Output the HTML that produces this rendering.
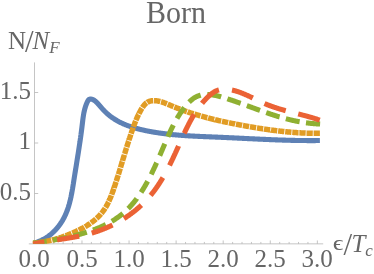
<!DOCTYPE html>
<html><head><meta charset="utf-8"><title>Born</title>
<style>
html,body{margin:0;padding:0;background:#fff;}
body{width:374px;height:274px;position:relative;overflow:hidden;font-family:"Liberation Serif",serif;color:#666666;}
.t{position:absolute;white-space:nowrap;line-height:1;will-change:transform;}
.tick{font-size:25px;}
.c{transform:translateX(-50%);}
.r{transform:translateX(-100%);}
i{font-style:italic;}
.sl{font-size:31px;position:relative;top:3.2px;line-height:0;}
.eps{display:inline-block;transform-origin:50% 20.9px;transform:translateY(-1.7px) scale(1.05,0.82);}
sub{font-size:17px;vertical-align:baseline;position:relative;top:3.6px;}
</style></head><body>
<svg width="374" height="274" viewBox="0 0 374 274" style="position:absolute;left:0;top:0">
<g stroke="#b6b6b6" stroke-width="0.8" fill="none">
<line x1="28.8" y1="243.85" x2="323.2" y2="243.85"/>
<line x1="34.5" y1="62.4" x2="34.5" y2="243.85"/>
<line x1="44.31" y1="243.85" x2="44.31" y2="241.95"/>
<line x1="53.73" y1="243.85" x2="53.73" y2="241.95"/>
<line x1="63.15" y1="243.85" x2="63.15" y2="241.95"/>
<line x1="72.56" y1="243.85" x2="72.56" y2="241.95"/>
<line x1="81.97" y1="243.85" x2="81.97" y2="240.45"/>
<line x1="91.39" y1="243.85" x2="91.39" y2="241.95"/>
<line x1="100.81" y1="243.85" x2="100.81" y2="241.95"/>
<line x1="110.22" y1="243.85" x2="110.22" y2="241.95"/>
<line x1="119.63" y1="243.85" x2="119.63" y2="241.95"/>
<line x1="129.05" y1="243.85" x2="129.05" y2="240.45"/>
<line x1="138.47" y1="243.85" x2="138.47" y2="241.95"/>
<line x1="147.88" y1="243.85" x2="147.88" y2="241.95"/>
<line x1="157.30" y1="243.85" x2="157.30" y2="241.95"/>
<line x1="166.71" y1="243.85" x2="166.71" y2="241.95"/>
<line x1="176.12" y1="243.85" x2="176.12" y2="240.45"/>
<line x1="185.54" y1="243.85" x2="185.54" y2="241.95"/>
<line x1="194.96" y1="243.85" x2="194.96" y2="241.95"/>
<line x1="204.37" y1="243.85" x2="204.37" y2="241.95"/>
<line x1="213.79" y1="243.85" x2="213.79" y2="241.95"/>
<line x1="223.20" y1="243.85" x2="223.20" y2="240.45"/>
<line x1="232.62" y1="243.85" x2="232.62" y2="241.95"/>
<line x1="242.03" y1="243.85" x2="242.03" y2="241.95"/>
<line x1="251.45" y1="243.85" x2="251.45" y2="241.95"/>
<line x1="260.86" y1="243.85" x2="260.86" y2="241.95"/>
<line x1="270.27" y1="243.85" x2="270.27" y2="240.45"/>
<line x1="279.69" y1="243.85" x2="279.69" y2="241.95"/>
<line x1="289.11" y1="243.85" x2="289.11" y2="241.95"/>
<line x1="298.52" y1="243.85" x2="298.52" y2="241.95"/>
<line x1="307.94" y1="243.85" x2="307.94" y2="241.95"/>
<line x1="317.35" y1="243.85" x2="317.35" y2="240.45"/>
<line x1="34.5" y1="193.50" x2="38.2" y2="193.50"/>
<line x1="34.5" y1="143.00" x2="38.2" y2="143.00"/>
<line x1="34.5" y1="92.50" x2="38.2" y2="92.50"/>
</g>
<defs><clipPath id="cp"><rect x="32.8" y="0" width="341.2" height="243.7"/></clipPath></defs><g clip-path="url(#cp)">
<path d="M319.90 140.54 L317.40 140.56 L316.91 140.57 L316.41 140.57 L315.91 140.57 L315.41 140.58 L314.91 140.58 L314.41 140.58 L313.91 140.58 L313.41 140.59 L312.91 140.59 L312.41 140.59 L311.91 140.59 L311.41 140.59 L310.91 140.59 L310.41 140.59 L309.91 140.59 L309.41 140.59 L308.91 140.59 L308.41 140.58 L307.91 140.58 L307.41 140.58 L306.91 140.58 L306.41 140.57 L305.91 140.57 L305.41 140.57 L304.91 140.56 L304.41 140.56 L303.91 140.55 L303.41 140.55 L302.91 140.54 L302.41 140.54 L301.91 140.53 L301.41 140.53 L300.91 140.52 L300.41 140.51 L299.91 140.50 L299.41 140.50 L298.91 140.49 L298.41 140.48 L297.91 140.47 L297.41 140.46 L296.91 140.45 L296.41 140.45 L295.91 140.44 L295.41 140.43 L294.91 140.42 L294.41 140.41 L293.91 140.39 L293.41 140.38 L292.91 140.37 L292.41 140.36 L291.91 140.35 L291.41 140.34 L290.91 140.33 L290.41 140.31 L289.91 140.30 L289.41 140.29 L288.91 140.27 L288.41 140.26 L287.91 140.25 L287.41 140.23 L286.91 140.22 L286.41 140.20 L285.91 140.19 L285.41 140.17 L284.91 140.16 L284.41 140.14 L283.91 140.13 L283.41 140.11 L282.91 140.10 L282.41 140.08 L281.91 140.06 L281.41 140.05 L280.91 140.03 L280.41 140.01 L279.91 140.00 L279.41 139.98 L278.91 139.96 L278.42 139.94 L277.92 139.93 L277.42 139.91 L276.92 139.89 L276.42 139.87 L275.92 139.85 L275.42 139.83 L274.92 139.81 L274.42 139.80 L273.92 139.78 L273.42 139.76 L272.92 139.74 L272.42 139.72 L271.92 139.70 L271.42 139.68 L270.92 139.66 L270.42 139.64 L269.92 139.62 L269.42 139.59 L268.92 139.57 L268.42 139.55 L267.92 139.53 L267.42 139.51 L266.93 139.49 L266.43 139.47 L265.93 139.45 L265.43 139.42 L264.93 139.40 L264.43 139.38 L263.93 139.36 L263.43 139.34 L262.93 139.31 L262.43 139.29 L261.93 139.27 L261.43 139.25 L260.93 139.22 L260.43 139.20 L259.93 139.18 L259.43 139.15 L258.93 139.13 L258.43 139.11 L257.93 139.08 L257.44 139.06 L256.94 139.04 L256.44 139.01 L255.94 138.99 L255.44 138.97 L254.94 138.94 L254.44 138.92 L253.94 138.89 L253.44 138.87 L252.94 138.85 L252.44 138.82 L251.94 138.80 L251.44 138.77 L250.94 138.75 L250.44 138.73 L249.94 138.70 L249.44 138.68 L248.94 138.65 L248.44 138.63 L247.95 138.60 L247.45 138.58 L246.95 138.56 L246.45 138.53 L245.95 138.51 L245.45 138.48 L244.95 138.46 L244.45 138.43 L243.95 138.41 L243.45 138.38 L242.95 138.36 L242.45 138.33 L241.95 138.31 L241.45 138.29 L240.95 138.26 L240.45 138.24 L239.95 138.21 L239.45 138.19 L238.96 138.16 L238.46 138.14 L237.96 138.11 L237.46 138.09 L236.96 138.07 L236.46 138.04 L235.96 138.02 L235.46 137.99 L234.96 137.97 L234.46 137.94 L233.96 137.92 L233.46 137.90 L232.96 137.87 L232.46 137.85 L231.96 137.82 L231.46 137.80 L230.96 137.78 L230.46 137.75 L229.96 137.73 L229.46 137.70 L228.97 137.68 L228.47 137.66 L227.97 137.63 L227.47 137.61 L226.97 137.59 L226.47 137.56 L225.97 137.54 L225.47 137.52 L224.97 137.50 L224.47 137.47 L223.97 137.45 L223.47 137.43 L222.97 137.40 L222.47 137.38 L221.97 137.36 L221.47 137.34 L220.97 137.32 L220.47 137.29 L219.97 137.27 L219.47 137.25 L218.97 137.23 L218.47 137.21 L217.97 137.18 L217.47 137.16 L216.97 137.14 L216.47 137.12 L215.98 137.10 L215.48 137.08 L214.98 137.06 L214.48 137.04 L213.98 137.02 L213.48 137.00 L212.98 136.98 L212.48 136.96 L211.98 136.94 L211.48 136.91 L210.98 136.89 L210.48 136.87 L209.98 136.85 L209.48 136.83 L208.98 136.81 L208.48 136.79 L207.98 136.77 L207.48 136.75 L206.98 136.73 L206.48 136.71 L205.98 136.69 L205.48 136.67 L204.98 136.65 L204.48 136.62 L203.98 136.60 L203.48 136.58 L202.98 136.56 L202.48 136.54 L201.99 136.52 L201.49 136.49 L200.99 136.47 L200.49 136.45 L199.99 136.43 L199.49 136.40 L198.99 136.38 L198.49 136.36 L197.99 136.33 L197.49 136.31 L196.99 136.29 L196.49 136.26 L195.99 136.24 L195.49 136.21 L194.99 136.19 L194.50 136.16 L194.00 136.14 L193.50 136.11 L193.00 136.08 L192.50 136.06 L192.00 136.03 L191.50 136.00 L191.00 135.97 L190.50 135.94 L190.00 135.92 L189.51 135.89 L189.01 135.86 L188.51 135.83 L188.01 135.80 L187.51 135.77 L187.01 135.73 L186.51 135.70 L186.01 135.67 L185.52 135.64 L185.02 135.61 L184.52 135.57 L184.02 135.54 L183.52 135.50 L183.02 135.47 L182.53 135.43 L182.03 135.40 L181.53 135.36 L181.03 135.32 L180.53 135.28 L180.03 135.24 L179.54 135.21 L179.04 135.17 L178.54 135.13 L178.04 135.08 L177.54 135.04 L177.05 135.00 L176.55 134.96 L176.05 134.91 L175.55 134.87 L175.06 134.83 L174.56 134.78 L174.06 134.73 L173.56 134.69 L173.07 134.64 L172.57 134.59 L172.07 134.54 L171.58 134.49 L171.08 134.44 L170.58 134.39 L170.08 134.34 L169.59 134.28 L169.09 134.23 L168.59 134.18 L168.10 134.12 L167.60 134.07 L167.10 134.01 L166.61 133.95 L166.11 133.89 L165.61 133.83 L165.12 133.77 L164.62 133.71 L164.13 133.65 L163.63 133.59 L163.13 133.52 L162.64 133.46 L162.14 133.39 L161.65 133.32 L161.15 133.26 L160.66 133.19 L160.16 133.12 L159.66 133.05 L159.17 132.98 L158.67 132.90 L158.18 132.83 L157.68 132.76 L157.19 132.68 L156.69 132.60 L156.20 132.53 L155.70 132.45 L155.21 132.37 L154.71 132.29 L154.22 132.21 L153.73 132.12 L153.23 132.04 L152.74 131.95 L152.24 131.87 L151.75 131.78 L151.25 131.69 L150.76 131.60 L150.27 131.51 L149.77 131.42 L149.28 131.33 L148.79 131.23 L148.29 131.14 L147.80 131.04 L147.31 130.94 L146.81 130.85 L146.32 130.74 L145.83 130.64 L145.33 130.54 L144.84 130.44 L144.35 130.33 L143.86 130.22 L143.37 130.12 L142.87 130.01 L142.38 129.89 L141.89 129.78 L141.40 129.67 L140.91 129.55 L140.42 129.43 L139.94 129.32 L139.45 129.19 L138.96 129.07 L138.47 128.95 L137.99 128.82 L137.50 128.69 L137.01 128.56 L136.53 128.43 L136.05 128.30 L135.56 128.16 L135.08 128.02 L134.60 127.89 L134.12 127.74 L133.64 127.60 L133.16 127.45 L132.68 127.31 L132.21 127.16 L131.73 127.00 L131.26 126.85 L130.78 126.69 L130.31 126.53 L129.84 126.37 L129.37 126.21 L128.90 126.04 L128.43 125.87 L127.97 125.70 L127.50 125.53 L127.04 125.35 L126.57 125.18 L126.11 124.99 L125.65 124.81 L125.19 124.62 L124.74 124.43 L124.28 124.24 L123.83 124.05 L123.37 123.85 L122.92 123.65 L122.47 123.45 L122.03 123.24 L121.58 123.03 L121.14 122.82 L120.69 122.61 L120.25 122.39 L119.81 122.17 L119.38 121.94 L118.94 121.72 L118.51 121.49 L118.08 121.25 L117.65 121.02 L117.22 120.78 L116.79 120.54 L116.37 120.29 L115.95 120.04 L115.53 119.79 L115.11 119.53 L114.69 119.27 L114.28 119.01 L113.87 118.74 L113.46 118.47 L113.05 118.20 L112.65 117.92 L112.25 117.64 L111.85 117.36 L111.45 117.07 L111.06 116.78 L110.66 116.48 L110.27 116.18 L109.89 115.88 L109.50 115.57 L109.12 115.26 L108.73 114.94 L108.35 114.62 L107.98 114.30 L107.60 113.97 L107.22 113.64 L106.85 113.30 L106.48 112.96 L106.11 112.61 L105.74 112.26 L105.37 111.91 L105.01 111.55 L104.64 111.18 L104.27 110.81 L103.91 110.43 L103.55 110.05 L103.19 109.67 L102.82 109.28 L102.46 108.88 L102.10 108.48 L101.74 108.07 L101.38 107.66 L101.02 107.24 L100.66 106.82 L100.30 106.40 L99.94 105.98 L99.58 105.56 L99.22 105.14 L98.86 104.73 L98.50 104.32 L98.13 103.92 L97.77 103.52 L97.41 103.13 L97.04 102.76 L96.67 102.39 L96.30 102.04 L95.93 101.70 L95.56 101.37 L95.19 101.06 L94.81 100.77 L94.43 100.50 L94.05 100.25 L93.67 100.02 L93.28 99.81 L92.90 99.62 L92.50 99.47 L92.11 99.33 L91.71 99.23 L91.32 99.15 L90.91 99.11 L90.51 99.10 L90.10 99.12 L89.71 99.19 L89.33 99.32 L88.98 99.52 L88.66 99.79 L88.36 100.12 L88.09 100.49 L87.84 100.91 L87.60 101.35 L87.38 101.80 L87.16 102.27 L86.95 102.73 L86.75 103.20 L86.55 103.66 L86.36 104.13 L86.18 104.61 L86.01 105.08 L85.83 105.55 L85.67 106.03 L85.51 106.51 L85.36 106.99 L85.21 107.47 L85.07 107.95 L84.93 108.44 L84.80 108.92 L84.67 109.41 L84.55 109.90 L84.43 110.39 L84.32 110.88 L84.21 111.37 L84.10 111.87 L84.00 112.36 L83.90 112.85 L83.80 113.35 L83.71 113.85 L83.62 114.34 L83.54 114.84 L83.46 115.34 L83.38 115.84 L83.30 116.34 L83.22 116.84 L83.15 117.34 L83.08 117.85 L83.01 118.35 L82.94 118.85 L82.88 119.35 L82.81 119.86 L82.75 120.36 L82.69 120.86 L82.63 121.37 L82.57 121.87 L82.51 122.37 L82.45 122.87 L82.39 123.38 L82.33 123.88 L82.27 124.38 L82.21 124.89 L82.15 125.39 L82.09 125.89 L82.03 126.39 L81.97 126.89 L81.91 127.39 L81.85 127.89 L81.78 128.39 L81.72 128.89 L81.66 129.39 L81.59 129.89 L81.53 130.39 L81.47 130.88 L81.40 131.38 L81.34 131.88 L81.27 132.38 L81.20 132.87 L81.14 133.37 L81.07 133.87 L81.00 134.36 L80.94 134.86 L80.87 135.35 L80.80 135.85 L80.73 136.34 L80.66 136.84 L80.59 137.33 L80.53 137.83 L80.46 138.32 L80.39 138.81 L80.31 139.31 L80.24 139.80 L80.17 140.30 L80.10 140.79 L80.03 141.28 L79.96 141.77 L79.89 142.27 L79.81 142.76 L79.74 143.25 L79.67 143.74 L79.59 144.23 L79.52 144.73 L79.45 145.22 L79.37 145.71 L79.30 146.20 L79.23 146.69 L79.15 147.18 L79.08 147.67 L79.00 148.17 L78.93 148.66 L78.85 149.15 L78.77 149.64 L78.70 150.13 L78.62 150.62 L78.55 151.11 L78.47 151.60 L78.39 152.09 L78.32 152.58 L78.24 153.07 L78.16 153.56 L78.08 154.05 L78.01 154.54 L77.93 155.03 L77.85 155.52 L77.77 156.01 L77.70 156.50 L77.62 156.99 L77.54 157.48 L77.46 157.97 L77.38 158.46 L77.30 158.95 L77.23 159.44 L77.15 159.94 L77.07 160.43 L76.99 160.92 L76.91 161.41 L76.83 161.90 L76.75 162.39 L76.67 162.88 L76.59 163.37 L76.51 163.86 L76.43 164.35 L76.36 164.84 L76.28 165.34 L76.20 165.83 L76.12 166.32 L76.04 166.81 L75.96 167.30 L75.88 167.79 L75.80 168.29 L75.72 168.78 L75.64 169.27 L75.56 169.76 L75.48 170.26 L75.40 170.75 L75.32 171.24 L75.24 171.74 L75.16 172.23 L75.08 172.73 L75.01 173.22 L74.93 173.71 L74.85 174.21 L74.77 174.70 L74.69 175.20 L74.61 175.69 L74.53 176.19 L74.45 176.69 L74.37 177.18 L74.29 177.68 L74.22 178.17 L74.14 178.67 L74.06 179.17 L73.98 179.67 L73.90 180.16 L73.83 180.66 L73.75 181.16 L73.67 181.66 L73.59 182.16 L73.51 182.66 L73.43 183.16 L73.36 183.66 L73.28 184.15 L73.20 184.65 L73.12 185.15 L73.04 185.65 L72.96 186.15 L72.88 186.65 L72.79 187.15 L72.71 187.65 L72.63 188.15 L72.54 188.65 L72.46 189.15 L72.37 189.64 L72.29 190.14 L72.20 190.64 L72.11 191.14 L72.02 191.64 L71.93 192.13 L71.84 192.63 L71.75 193.13 L71.65 193.62 L71.56 194.12 L71.46 194.61 L71.36 195.11 L71.26 195.60 L71.16 196.09 L71.06 196.59 L70.95 197.08 L70.85 197.57 L70.74 198.06 L70.63 198.55 L70.52 199.04 L70.40 199.53 L70.29 200.02 L70.17 200.51 L70.05 200.99 L69.93 201.48 L69.81 201.96 L69.68 202.45 L69.55 202.93 L69.42 203.41 L69.29 203.90 L69.16 204.38 L69.02 204.85 L68.88 205.33 L68.74 205.81 L68.59 206.29 L68.45 206.76 L68.30 207.24 L68.14 207.71 L67.99 208.18 L67.83 208.65 L67.67 209.12 L67.50 209.59 L67.34 210.05 L67.17 210.52 L66.99 210.98 L66.82 211.44 L66.64 211.90 L66.46 212.36 L66.27 212.82 L66.08 213.28 L65.89 213.73 L65.69 214.19 L65.49 214.64 L65.29 215.09 L65.08 215.54 L64.87 215.99 L64.66 216.43 L64.44 216.88 L64.22 217.32 L63.99 217.76 L63.76 218.20 L63.53 218.63 L63.29 219.07 L63.05 219.50 L62.81 219.93 L62.56 220.36 L62.31 220.79 L62.05 221.21 L61.79 221.64 L61.52 222.06 L61.25 222.48 L60.98 222.89 L60.71 223.31 L60.43 223.72 L60.14 224.13 L59.85 224.54 L59.56 224.94 L59.27 225.34 L58.97 225.74 L58.67 226.14 L58.36 226.53 L58.05 226.92 L57.73 227.31 L57.42 227.69 L57.10 228.07 L56.77 228.45 L56.44 228.83 L56.11 229.20 L55.77 229.57 L55.44 229.94 L55.09 230.30 L54.75 230.66 L54.40 231.01 L54.04 231.37 L53.69 231.72 L53.33 232.06 L52.96 232.40 L52.59 232.74 L52.22 233.08 L51.85 233.41 L51.47 233.73 L51.09 234.06 L50.71 234.38 L50.32 234.69 L49.93 235.00 L49.53 235.31 L49.14 235.61 L48.73 235.91 L48.33 236.21 L47.92 236.50 L47.51 236.78 L47.10 237.06 L46.68 237.34 L46.26 237.61 L45.84 237.88 L45.41 238.14 L44.98 238.40 L44.55 238.66 L44.11 238.91 L43.67 239.15 L43.23 239.39 L42.78 239.62 L42.34 239.85 L41.88 240.08 L41.43 240.30 L40.97 240.51 L40.51 240.72 L40.05 240.92 L39.58 241.12 L39.11 241.32 L38.64 241.50 L38.16 241.69 L37.68 241.86 L37.20 242.03 L36.72 242.20 L36.23 242.36 L35.74 242.51 L35.25 242.66 L34.76 242.80 L34.75 242.81" fill="none" stroke="#5e81b5" stroke-width="5.1" stroke-linejoin="round" stroke-linecap="butt"/>
<path d="M319.90 133.26 L317.40 133.27 L316.93 133.27 L316.43 133.27 L315.93 133.27 L315.42 133.27 L314.92 133.27 L314.42 133.27 L313.92 133.27 L313.60 133.27 M312.78 133.26 L312.42 133.25 L311.92 133.25 L311.42 133.24 L310.92 133.23 L310.42 133.22 L309.92 133.21 L309.42 133.20 L308.92 133.19 L308.42 133.17 L307.92 133.16 L307.42 133.15 L306.92 133.13 L306.49 133.12 M305.67 133.09 L305.42 133.08 L304.92 133.06 L304.42 133.04 L303.92 133.02 L303.42 133.00 L302.92 132.97 L302.43 132.95 L301.93 132.93 L301.43 132.90 L300.93 132.88 L300.43 132.85 L299.93 132.82 L299.43 132.79 L299.37 132.79 M298.55 132.74 L298.43 132.74 L297.93 132.71 L297.43 132.67 L296.93 132.64 L296.43 132.61 L295.94 132.58 L295.44 132.54 L294.94 132.51 L294.44 132.47 L293.94 132.43 L293.44 132.40 L292.94 132.36 L292.44 132.32 L292.27 132.31 M291.45 132.24 L291.45 132.24 L290.95 132.20 L290.45 132.16 L289.95 132.11 L289.45 132.07 L288.96 132.03 L288.46 131.98 L287.96 131.94 L287.46 131.89 L286.96 131.85 L286.47 131.80 L285.97 131.75 L285.47 131.70 L285.18 131.67 M284.36 131.59 L283.98 131.55 L283.48 131.50 L282.98 131.45 L282.48 131.40 L281.99 131.34 L281.49 131.29 L280.99 131.23 L280.49 131.18 L280.00 131.12 L279.50 131.07 L279.00 131.01 L278.51 130.95 L278.10 130.90 M277.29 130.81 L277.02 130.78 L276.52 130.72 L276.02 130.65 L275.53 130.59 L275.03 130.53 L274.53 130.47 L274.04 130.41 L273.54 130.34 L273.04 130.28 L272.55 130.21 L272.05 130.15 L271.55 130.08 L271.06 130.02 L271.04 130.01 M270.22 129.90 L270.07 129.88 L269.57 129.82 L269.07 129.75 L268.58 129.68 L268.08 129.61 L267.59 129.54 L267.09 129.47 L266.60 129.40 L266.10 129.33 L265.61 129.25 L265.11 129.18 L264.62 129.11 L264.12 129.03 L263.99 129.01 M263.18 128.89 L263.13 128.89 L262.64 128.81 L262.14 128.74 L261.65 128.66 L261.15 128.58 L260.66 128.51 L260.16 128.43 L259.67 128.35 L259.17 128.28 L258.68 128.20 L258.18 128.12 L257.69 128.04 L257.20 127.96 L256.95 127.92 M256.14 127.79 L255.71 127.72 L255.22 127.64 L254.73 127.55 L254.23 127.47 L253.74 127.39 L253.25 127.31 L252.75 127.22 L252.26 127.14 L251.77 127.06 L251.27 126.97 L250.78 126.89 L250.29 126.80 L249.93 126.74 M249.12 126.60 L248.81 126.54 L248.32 126.46 L247.82 126.37 L247.33 126.28 L246.84 126.20 L246.35 126.11 L245.85 126.02 L245.36 125.93 L244.87 125.84 L244.38 125.75 L243.89 125.66 L243.39 125.57 L242.92 125.49 M242.11 125.34 L241.92 125.30 L241.43 125.21 L240.94 125.12 L240.45 125.03 L239.96 124.94 L239.46 124.85 L238.97 124.75 L238.48 124.66 L237.99 124.57 L237.50 124.47 L237.01 124.38 L236.52 124.29 L236.03 124.19 L235.92 124.17 M235.12 124.02 L235.05 124.00 L234.56 123.91 L234.07 123.81 L233.58 123.71 L233.09 123.62 L232.60 123.52 L232.11 123.42 L231.62 123.32 L231.13 123.23 L230.64 123.13 L230.15 123.03 L229.66 122.93 L229.18 122.83 L228.94 122.78 M228.14 122.61 L227.71 122.52 L227.22 122.42 L226.73 122.32 L226.25 122.22 L225.76 122.11 L225.27 122.01 L224.78 121.90 L224.29 121.80 L223.81 121.69 L223.32 121.59 L222.83 121.48 L222.34 121.37 L221.98 121.29 M221.18 121.11 L220.88 121.05 L220.40 120.94 L219.91 120.83 L219.43 120.72 L218.94 120.61 L218.45 120.50 L217.97 120.38 L217.48 120.27 L217.00 120.16 L216.51 120.04 L216.02 119.93 L215.54 119.81 L215.05 119.70 L215.04 119.69 M214.24 119.50 L214.09 119.46 L213.60 119.35 L213.12 119.23 L212.63 119.11 L212.15 118.99 L211.66 118.87 L211.18 118.75 L210.70 118.63 L210.21 118.51 L209.73 118.38 L209.25 118.26 L208.76 118.13 L208.28 118.01 L208.13 117.97 M207.34 117.76 L207.31 117.76 L206.83 117.63 L206.35 117.50 L205.87 117.37 L205.39 117.25 L204.90 117.12 L204.42 116.98 L203.94 116.85 L203.46 116.72 L202.98 116.59 L202.50 116.45 L202.02 116.32 L201.54 116.18 L201.26 116.11 M200.47 115.88 L200.10 115.77 L199.62 115.64 L199.14 115.50 L198.66 115.36 L198.18 115.22 L197.70 115.07 L197.22 114.93 L196.74 114.79 L196.26 114.64 L195.78 114.50 L195.31 114.35 L194.83 114.21 L194.43 114.09 M193.65 113.84 L193.40 113.76 L192.92 113.61 L192.44 113.46 L191.96 113.31 L191.49 113.16 L191.01 113.00 L190.53 112.85 L190.06 112.69 L189.58 112.54 L189.11 112.38 L188.63 112.22 L188.16 112.06 L187.68 111.90 L187.66 111.89 M186.88 111.63 L186.73 111.58 L186.26 111.42 L185.78 111.25 L185.31 111.09 L184.83 110.92 L184.36 110.75 L183.89 110.59 L183.41 110.42 L182.94 110.25 L182.47 110.08 L182.00 109.90 L181.52 109.73 L181.05 109.56 L180.95 109.52 M180.18 109.23 L180.11 109.21 L179.64 109.03 L179.17 108.85 L178.69 108.67 L178.22 108.49 L177.75 108.31 L177.28 108.13 L176.81 107.95 L176.34 107.76 L175.87 107.58 L175.40 107.39 L174.93 107.20 L174.47 107.01 L174.31 106.95 M173.55 106.64 L173.53 106.63 L173.06 106.44 L172.59 106.25 L172.12 106.05 L171.66 105.86 L171.19 105.66 L170.72 105.46 L170.25 105.26 L169.79 105.07 L169.32 104.87 L168.85 104.67 L168.39 104.47 L167.92 104.27 L167.74 104.20 M166.98 103.88 L166.52 103.69 L166.05 103.50 L165.58 103.32 L165.11 103.13 L164.64 102.95 L164.17 102.78 L163.69 102.60 L163.22 102.44 L162.75 102.27 L162.27 102.12 L161.80 101.97 L161.32 101.82 L161.06 101.75 M160.27 101.53 L159.88 101.43 L159.39 101.31 L158.91 101.20 L158.42 101.10 L157.93 101.01 L157.45 100.92 L156.95 100.85 L156.46 100.78 L155.97 100.73 L155.48 100.69 L154.99 100.65 L154.50 100.63 L154.05 100.63 M153.23 100.64 L153.05 100.65 L152.57 100.68 L152.10 100.73 L151.63 100.79 L151.17 100.87 L150.71 100.96 L150.25 101.07 L149.81 101.19 L149.37 101.34 L148.93 101.50 L148.51 101.68 L148.09 101.87 L147.68 102.09 L147.28 102.32 L147.24 102.35 M146.57 102.82 L146.52 102.85 L146.15 103.14 L145.79 103.45 L145.43 103.78 L145.09 104.12 L144.75 104.47 L144.42 104.84 L144.10 105.22 L143.79 105.61 L143.48 106.01 L143.18 106.42 L142.88 106.84 L142.60 107.27 L142.43 107.52 M141.99 108.22 L141.76 108.58 L141.49 109.03 L141.23 109.48 L140.97 109.93 L140.71 110.38 L140.46 110.83 L140.21 111.28 L139.97 111.74 L139.73 112.19 L139.49 112.64 L139.26 113.10 L139.03 113.55 L138.94 113.73 M138.58 114.46 L138.57 114.47 L138.35 114.92 L138.13 115.38 L137.92 115.84 L137.70 116.30 L137.49 116.76 L137.29 117.22 L137.08 117.68 L136.88 118.14 L136.68 118.60 L136.48 119.06 L136.29 119.52 L136.09 119.98 L136.00 120.21 M135.69 120.97 L135.53 121.37 L135.34 121.84 L135.16 122.30 L134.98 122.76 L134.80 123.23 L134.62 123.70 L134.44 124.16 L134.27 124.63 L134.09 125.09 L133.92 125.56 L133.75 126.03 L133.58 126.50 L133.45 126.86 M133.17 127.63 L133.07 127.90 L132.91 128.37 L132.74 128.84 L132.57 129.31 L132.41 129.78 L132.24 130.25 L132.08 130.72 L131.92 131.19 L131.76 131.66 L131.59 132.14 L131.43 132.61 L131.27 133.08 L131.11 133.55 L131.10 133.58 M130.84 134.35 L130.79 134.50 L130.63 134.97 L130.47 135.44 L130.32 135.92 L130.16 136.39 L130.00 136.87 L129.84 137.34 L129.69 137.82 L129.53 138.29 L129.38 138.76 L129.22 139.24 L129.07 139.72 L128.91 140.19 L128.87 140.34 M128.62 141.12 L128.61 141.14 L128.45 141.62 L128.30 142.09 L128.15 142.57 L128.00 143.05 L127.85 143.52 L127.70 144.00 L127.55 144.48 L127.40 144.95 L127.25 145.43 L127.10 145.91 L126.95 146.39 L126.80 146.86 L126.72 147.13 M126.47 147.91 L126.35 148.30 L126.20 148.77 L126.06 149.25 L125.91 149.73 L125.76 150.21 L125.61 150.69 L125.47 151.16 L125.32 151.64 L125.17 152.12 L125.03 152.60 L124.88 153.08 L124.74 153.56 L124.62 153.93 M124.38 154.71 L124.30 154.99 L124.15 155.47 L124.01 155.95 L123.86 156.43 L123.72 156.91 L123.57 157.38 L123.43 157.86 L123.28 158.34 L123.14 158.82 L123.00 159.30 L122.85 159.78 L122.71 160.25 L122.56 160.73 L122.56 160.74 M122.32 161.53 L122.27 161.69 L122.13 162.17 L121.98 162.64 L121.84 163.12 L121.70 163.60 L121.55 164.08 L121.41 164.55 L121.26 165.03 L121.12 165.51 L120.97 165.99 L120.83 166.46 L120.69 166.94 L120.54 167.42 L120.50 167.56 M120.26 168.34 L120.25 168.37 L120.11 168.85 L119.96 169.32 L119.82 169.80 L119.67 170.28 L119.52 170.75 L119.38 171.23 L119.23 171.70 L119.09 172.18 L118.94 172.66 L118.79 173.13 L118.65 173.61 L118.50 174.08 L118.41 174.37 M118.17 175.15 L118.05 175.51 L117.91 175.99 L117.76 176.46 L117.61 176.94 L117.46 177.41 L117.31 177.89 L117.16 178.36 L117.01 178.84 L116.85 179.32 L116.70 179.79 L116.55 180.27 L116.40 180.74 L116.26 181.16 M116.01 181.94 L115.93 182.17 L115.78 182.65 L115.62 183.12 L115.47 183.60 L115.31 184.08 L115.15 184.55 L115.00 185.03 L114.84 185.50 L114.68 185.98 L114.52 186.46 L114.36 186.94 L114.20 187.41 L114.03 187.89 L114.03 187.91 M113.76 188.69 L113.71 188.84 L113.54 189.32 L113.38 189.80 L113.21 190.28 L113.05 190.75 L112.88 191.23 L112.71 191.71 L112.54 192.18 L112.36 192.66 L112.19 193.13 L112.02 193.61 L111.84 194.08 L111.66 194.56 L111.64 194.62 M111.34 195.39 L111.30 195.50 L111.12 195.97 L110.93 196.44 L110.74 196.91 L110.55 197.38 L110.36 197.84 L110.17 198.31 L109.97 198.77 L109.78 199.23 L109.57 199.69 L109.37 200.15 L109.17 200.61 L108.96 201.07 L108.90 201.19 M108.55 201.94 L108.53 201.97 L108.32 202.42 L108.10 202.87 L107.88 203.32 L107.65 203.76 L107.42 204.21 L107.19 204.65 L106.96 205.08 L106.72 205.52 L106.48 205.95 L106.24 206.38 L105.99 206.81 L105.74 207.24 L105.58 207.49 M105.15 208.19 L104.96 208.50 L104.69 208.91 L104.42 209.32 L104.15 209.73 L103.87 210.14 L103.59 210.54 L103.30 210.94 L103.01 211.34 L102.72 211.73 L102.42 212.12 L102.11 212.50 L101.80 212.89 L101.49 213.27 L101.47 213.29 M100.94 213.92 L100.86 214.02 L100.53 214.39 L100.21 214.75 L99.87 215.12 L99.54 215.48 L99.20 215.83 L98.86 216.19 L98.51 216.54 L98.16 216.89 L97.81 217.23 L97.45 217.57 L97.09 217.91 L96.73 218.25 L96.54 218.42 M95.93 218.97 L95.62 219.24 L95.24 219.56 L94.86 219.88 L94.48 220.20 L94.09 220.52 L93.70 220.83 L93.31 221.14 L92.92 221.45 L92.52 221.75 L92.12 222.05 L91.72 222.35 L91.31 222.65 L90.99 222.88 M90.32 223.35 L90.09 223.52 L89.67 223.81 L89.25 224.09 L88.84 224.37 L88.41 224.65 L87.99 224.92 L87.57 225.20 L87.14 225.47 L86.71 225.73 L86.28 226.00 L85.84 226.26 L85.41 226.52 L85.02 226.75 M84.31 227.16 L84.09 227.29 L83.65 227.54 L83.21 227.79 L82.76 228.04 L82.32 228.28 L81.87 228.52 L81.42 228.76 L80.97 229.00 L80.52 229.24 L80.07 229.47 L79.61 229.70 L79.16 229.93 L78.76 230.13 M78.02 230.49 L77.79 230.60 L77.33 230.83 L76.87 231.04 L76.41 231.26 L75.95 231.47 L75.49 231.69 L75.03 231.90 L74.56 232.11 L74.10 232.31 L73.64 232.52 L73.18 232.72 L72.71 232.92 L72.29 233.11 M71.53 233.43 L71.32 233.52 L70.86 233.71 L70.39 233.90 L69.93 234.09 L69.46 234.28 L69.00 234.47 L68.53 234.66 L68.07 234.84 L67.61 235.02 L67.14 235.20 L66.68 235.38 L66.21 235.56 L65.75 235.73 L65.68 235.76 M64.91 236.04 L64.82 236.08 L64.36 236.25 L63.89 236.41 L63.43 236.58 L62.96 236.75 L62.49 236.91 L62.03 237.07 L61.56 237.23 L61.10 237.39 L60.63 237.54 L60.16 237.70 L59.70 237.85 L59.23 238.00 L58.95 238.09 M58.17 238.33 L57.82 238.44 L57.35 238.58 L56.88 238.72 L56.41 238.86 L55.94 239.00 L55.47 239.13 L54.99 239.27 L54.52 239.40 L54.05 239.53 L53.57 239.66 L53.10 239.79 L52.62 239.91 L52.14 240.03 L52.11 240.04 M51.31 240.24 L51.19 240.27 L50.71 240.39 L50.23 240.50 L49.74 240.62 L49.26 240.73 L48.78 240.84 L48.30 240.95 L47.81 241.05 L47.32 241.15 L46.84 241.26 L46.35 241.36 L45.86 241.45 L45.37 241.55 L45.16 241.59 M44.35 241.74 L43.89 241.82 L43.40 241.91 L42.90 242.00 L42.40 242.08 L41.91 242.17 L41.41 242.25 L40.90 242.32 L40.40 242.40 L39.90 242.47 L39.39 242.55 L38.89 242.62 L38.38 242.68 L38.13 242.72 M37.32 242.82 L36.85 242.88 L36.33 242.94 L35.82 242.99 L35.30 243.05 L34.78 243.10 L32.29 243.37" fill="none" stroke="#e19c24" stroke-width="5.5" stroke-linejoin="round" stroke-linecap="butt"/>
<path d="M320.12 124.04 L317.63 123.90 L317.52 123.90 L317.00 123.87 L316.48 123.84 L315.95 123.80 L315.43 123.77 L314.92 123.73 L314.40 123.70 L313.88 123.66 L313.37 123.61 L312.85 123.57 L312.34 123.52 L311.82 123.48 L311.31 123.43 L310.80 123.37 L310.29 123.32 L309.78 123.27 L309.27 123.21 L308.76 123.15 L308.25 123.09 L307.75 123.03 L307.24 122.96 L306.74 122.90 L306.23 122.83 L305.99 122.80 M299.62 121.78 L299.25 121.72 L298.76 121.62 L298.27 121.53 L297.78 121.44 L297.28 121.34 L296.79 121.24 L296.30 121.15 L295.82 121.05 L295.33 120.94 L294.84 120.84 L294.35 120.74 L293.86 120.63 L293.38 120.52 L292.89 120.42 L292.41 120.31 L291.92 120.20 L291.44 120.08 L290.95 119.97 L290.47 119.85 L289.99 119.74 L289.51 119.62 L289.03 119.50 L288.54 119.38 L288.06 119.26 L287.58 119.14 L287.10 119.02 L286.63 118.89 L286.15 118.77 L285.85 118.69 M279.58 116.92 L279.49 116.90 L279.01 116.75 L278.54 116.61 L278.07 116.47 L277.60 116.33 L277.13 116.18 L276.65 116.04 L276.18 115.89 L275.71 115.74 L275.24 115.59 L274.77 115.45 L274.30 115.30 L273.83 115.15 L273.36 114.99 L272.89 114.84 L272.42 114.69 L271.95 114.54 L271.48 114.38 L271.01 114.23 L270.55 114.07 L270.08 113.91 L269.61 113.76 L269.14 113.60 L268.67 113.44 L268.21 113.28 L267.74 113.12 L267.27 112.96 L266.80 112.80 L266.33 112.64 L266.21 112.60 M260.02 110.41 L259.79 110.33 L259.33 110.17 L258.86 110.00 L258.39 109.83 L257.92 109.66 L257.46 109.49 L256.99 109.32 L256.52 109.15 L256.05 108.98 L255.59 108.81 L255.12 108.64 L254.65 108.47 L254.18 108.30 L253.71 108.13 L253.24 107.96 L252.78 107.79 L252.31 107.61 L251.84 107.44 L251.37 107.27 L250.90 107.10 L250.43 106.93 L249.96 106.75 L249.49 106.58 L249.02 106.41 L248.55 106.24 L248.08 106.06 L247.61 105.89 L247.14 105.72 L246.85 105.62 M240.67 103.37 L240.51 103.32 L240.03 103.14 L239.55 102.97 L239.08 102.80 L238.60 102.63 L238.12 102.46 L237.64 102.29 L237.16 102.13 L236.68 101.96 L236.20 101.79 L235.72 101.62 L235.24 101.45 L234.76 101.29 L234.28 101.12 L233.80 100.95 L233.32 100.79 L232.83 100.62 L232.35 100.45 L231.87 100.29 L231.38 100.12 L230.90 99.96 L230.41 99.80 L229.92 99.63 L229.44 99.47 L228.95 99.31 L228.46 99.15 L227.97 98.99 L227.48 98.83 L227.40 98.80 M221.18 96.88 L221.08 96.85 L220.59 96.71 L220.09 96.57 L219.60 96.44 L219.11 96.31 L218.61 96.18 L218.12 96.06 L217.63 95.94 L217.14 95.82 L216.64 95.71 L216.15 95.60 L215.66 95.49 L215.17 95.39 L214.68 95.30 L214.19 95.20 L213.71 95.12 L213.22 95.03 L212.73 94.96 L212.25 94.88 L211.76 94.82 L211.28 94.75 L210.80 94.70 L210.32 94.65 L209.83 94.60 L209.36 94.57 L208.88 94.53 L208.40 94.51 L207.93 94.49 L207.45 94.48 L207.28 94.47 M200.68 95.16 L200.55 95.20 L200.11 95.31 L199.66 95.44 L199.22 95.57 L198.79 95.71 L198.35 95.87 L197.92 96.03 L197.49 96.20 L197.06 96.39 L196.64 96.58 L196.21 96.79 L195.80 97.00 L195.38 97.23 L194.97 97.46 L194.55 97.71 L194.15 97.97 L193.74 98.24 L193.34 98.52 L192.94 98.81 L192.54 99.10 L192.15 99.41 L191.76 99.72 L191.37 100.05 L190.99 100.38 L190.61 100.71 L190.23 101.06 L189.86 101.41 L189.48 101.77 L189.12 102.13 L189.08 102.17 M184.37 107.58 L184.29 107.68 L183.97 108.09 L183.65 108.51 L183.34 108.92 L183.03 109.34 L182.72 109.75 L182.41 110.17 L182.11 110.58 L181.82 111.00 L181.52 111.42 L181.23 111.83 L180.94 112.25 L180.66 112.67 L180.37 113.09 L180.09 113.50 L179.82 113.92 L179.54 114.34 L179.27 114.76 L179.00 115.18 L178.74 115.60 L178.47 116.02 L178.21 116.44 L177.95 116.86 L177.69 117.29 L177.44 117.71 L177.19 118.13 L177.02 118.42 M173.36 125.09 L173.21 125.39 L172.99 125.83 L172.77 126.26 L172.55 126.69 L172.34 127.13 L172.13 127.56 L171.91 128.00 L171.70 128.43 L171.49 128.87 L171.28 129.31 L171.07 129.74 L170.86 130.18 L170.66 130.62 L170.45 131.06 L170.25 131.50 L170.04 131.95 L169.84 132.39 L169.64 132.83 L169.43 133.27 L169.23 133.72 L169.03 134.16 L168.83 134.61 L168.63 135.06 L168.43 135.51 L168.23 135.95 L168.03 136.40 L167.88 136.74 M164.79 143.83 L164.65 144.15 L164.46 144.61 L164.26 145.08 L164.06 145.54 L163.86 146.00 L163.66 146.46 L163.46 146.93 L163.27 147.39 L163.07 147.86 L162.87 148.32 L162.67 148.79 L162.47 149.25 L162.27 149.72 L162.07 150.18 L161.87 150.65 L161.67 151.12 L161.47 151.58 L161.27 152.05 L161.07 152.52 L160.87 152.99 L160.67 153.45 L160.47 153.92 L160.27 154.39 L160.07 154.86 L159.87 155.33 L159.73 155.64 M156.63 162.73 L156.58 162.82 L156.37 163.29 L156.16 163.76 L155.95 164.22 L155.74 164.69 L155.53 165.16 L155.32 165.62 L155.11 166.09 L154.89 166.56 L154.68 167.02 L154.46 167.49 L154.25 167.95 L154.03 168.42 L153.82 168.88 L153.60 169.34 L153.38 169.81 L153.16 170.27 L152.94 170.73 L152.72 171.19 L152.50 171.65 L152.28 172.12 L152.06 172.58 L151.84 173.04 L151.61 173.49 L151.39 173.95 L151.17 174.40 M147.66 181.20 L147.42 181.64 L147.18 182.08 L146.94 182.53 L146.69 182.97 L146.45 183.41 L146.20 183.85 L145.95 184.29 L145.71 184.73 L145.46 185.17 L145.20 185.61 L144.95 186.04 L144.70 186.48 L144.44 186.91 L144.19 187.34 L143.93 187.78 L143.67 188.21 L143.41 188.63 L143.15 189.06 L142.89 189.49 L142.63 189.91 L142.36 190.34 L142.10 190.76 L141.83 191.18 L141.56 191.60 L141.29 192.02 L141.05 192.40 M136.79 198.52 L136.78 198.54 L136.48 198.93 L136.19 199.32 L135.89 199.71 L135.59 200.10 L135.29 200.49 L134.98 200.88 L134.68 201.26 L134.37 201.64 L134.06 202.02 L133.75 202.40 L133.44 202.78 L133.13 203.15 L132.82 203.53 L132.50 203.90 L132.18 204.27 L131.86 204.64 L131.54 205.00 L131.21 205.37 L130.89 205.73 L130.56 206.09 L130.23 206.45 L129.90 206.80 L129.57 207.16 L129.23 207.51 L128.90 207.86 L128.56 208.21 L128.22 208.55 L128.17 208.60 M122.93 213.43 L122.87 213.48 L122.50 213.79 L122.13 214.10 L121.75 214.41 L121.37 214.71 L120.99 215.01 L120.60 215.31 L120.22 215.61 L119.83 215.90 L119.44 216.20 L119.05 216.49 L118.66 216.77 L118.26 217.06 L117.87 217.34 L117.47 217.62 L117.07 217.90 L116.66 218.18 L116.26 218.45 L115.85 218.72 L115.45 218.99 L115.04 219.26 L114.62 219.53 L114.21 219.79 L113.80 220.05 L113.38 220.31 L112.96 220.57 L112.54 220.83 L112.12 221.08 L111.77 221.29 M105.81 224.54 L105.60 224.64 L105.16 224.86 L104.71 225.08 L104.26 225.30 L103.81 225.51 L103.36 225.73 L102.91 225.94 L102.45 226.15 L102.00 226.36 L101.54 226.57 L101.09 226.77 L100.63 226.97 L100.17 227.18 L99.71 227.38 L99.24 227.57 L98.78 227.77 L98.32 227.97 L97.85 228.16 L97.38 228.35 L96.92 228.54 L96.45 228.73 L95.98 228.92 L95.51 229.10 L95.03 229.28 L94.56 229.46 L94.09 229.64 L93.61 229.82 L93.14 230.00 L93.00 230.05 M86.77 232.19 L86.40 232.31 L85.91 232.47 L85.42 232.62 L84.93 232.77 L84.44 232.92 L83.96 233.07 L83.47 233.22 L82.97 233.36 L82.48 233.51 L81.99 233.65 L81.50 233.79 L81.01 233.94 L80.52 234.08 L80.02 234.21 L79.53 234.35 L79.03 234.49 L78.54 234.62 L78.04 234.75 L77.55 234.89 L77.05 235.02 L76.56 235.15 L76.06 235.27 L75.57 235.40 L75.07 235.53 L74.57 235.65 L74.08 235.78 L73.58 235.90 L73.21 235.99 M66.89 237.44 L66.61 237.50 L66.11 237.61 L65.61 237.71 L65.11 237.82 L64.62 237.92 L64.12 238.03 L63.62 238.13 L63.12 238.23 L62.63 238.33 L62.13 238.43 L61.63 238.53 L61.14 238.63 L60.64 238.72 L60.15 238.82 L59.65 238.91 L59.16 239.01 L58.66 239.10 L58.17 239.19 L57.67 239.29 L57.18 239.38 L56.69 239.47 L56.19 239.56 L55.70 239.65 L55.21 239.74 L54.72 239.82 L54.23 239.91 L53.74 240.00 L53.25 240.08 L53.01 240.13 M46.65 241.19 L46.46 241.22 L45.98 241.30 L45.50 241.37 L45.02 241.45 L44.54 241.53 L44.07 241.60 L43.59 241.68 L43.12 241.75 L42.64 241.82 L42.17 241.90 L41.70 241.97 L41.23 242.04 L40.76 242.12 L40.29 242.19 L39.82 242.26 L39.36 242.33 L38.89 242.40 L38.43 242.47 L37.97 242.54 L37.50 242.61 L37.04 242.68 L36.58 242.75 L36.13 242.82 L35.67 242.89 L35.21 242.96 L32.74 243.33" fill="none" stroke="#8fb032" stroke-width="5.1" stroke-linejoin="round" stroke-linecap="butt"/>
<path d="M319.78 120.09 L317.40 119.32 L317.05 119.21 L316.55 119.05 L316.06 118.89 L315.56 118.73 L315.07 118.58 L314.58 118.43 L314.08 118.28 L313.59 118.13 L313.10 117.98 L312.61 117.83 L312.12 117.68 L311.63 117.54 L311.14 117.40 L310.65 117.26 L310.16 117.12 L309.68 116.98 L309.19 116.84 L308.70 116.70 L308.22 116.57 L307.73 116.43 L307.25 116.30 L306.76 116.16 L306.28 116.03 L305.79 115.90 L305.31 115.77 L304.82 115.64 L304.34 115.51 L303.86 115.39 L303.38 115.26 L302.90 115.13 L302.41 115.01 L301.93 114.88 L301.45 114.76 L300.97 114.63 L300.49 114.51 L300.01 114.39 L299.54 114.27 L299.06 114.14 L298.58 114.02 L298.20 113.92 M285.70 110.69 L285.31 110.58 L284.84 110.45 L284.37 110.32 L283.90 110.19 L283.43 110.06 L282.96 109.92 L282.49 109.79 L282.02 109.66 L281.55 109.52 L281.08 109.38 L280.61 109.24 L280.14 109.11 L279.67 108.96 L279.20 108.82 L278.73 108.68 L278.26 108.54 L277.80 108.39 L277.33 108.24 L276.86 108.09 L276.39 107.94 L275.92 107.79 L275.45 107.64 L274.99 107.48 L274.52 107.33 L274.05 107.17 L273.58 107.01 L273.11 106.85 L272.65 106.68 L272.18 106.52 L271.71 106.35 L271.24 106.18 L270.78 106.01 L270.31 105.84 L269.84 105.66 L269.37 105.49 L268.90 105.31 L268.44 105.12 L267.97 104.94 L267.50 104.76 L267.03 104.57 L266.57 104.38 L266.10 104.18 L265.63 103.99 L265.16 103.79 L264.69 103.59 L264.53 103.52 M252.80 98.02 L252.50 97.87 L252.03 97.64 L251.56 97.42 L251.09 97.19 L250.61 96.97 L250.14 96.74 L249.67 96.52 L249.20 96.30 L248.73 96.08 L248.26 95.86 L247.79 95.65 L247.32 95.43 L246.84 95.22 L246.37 95.01 L245.90 94.80 L245.43 94.59 L244.96 94.39 L244.48 94.18 L244.01 93.98 L243.54 93.79 L243.06 93.59 L242.59 93.40 L242.12 93.21 L241.65 93.02 L241.17 92.84 L240.70 92.66 L240.22 92.48 L239.75 92.31 L239.28 92.14 L238.80 91.97 L238.33 91.81 L237.85 91.65 L237.38 91.49 L236.90 91.34 L236.43 91.20 L235.95 91.06 L235.48 90.92 L235.00 90.78 L234.53 90.66 L234.05 90.53 L233.58 90.41 L233.10 90.30 L232.62 90.19 L232.15 90.09 L232.01 90.06 M218.94 89.89 L218.83 89.92 L218.37 90.05 L217.92 90.20 L217.48 90.36 L217.03 90.53 L216.59 90.71 L216.16 90.90 L215.73 91.11 L215.30 91.33 L214.88 91.55 L214.45 91.79 L214.04 92.04 L213.62 92.30 L213.21 92.56 L212.81 92.84 L212.41 93.12 L212.01 93.41 L211.61 93.71 L211.22 94.01 L210.83 94.33 L210.44 94.64 L210.06 94.97 L209.68 95.30 L209.30 95.63 L208.93 95.97 L208.56 96.32 L208.19 96.66 L207.83 97.01 L207.46 97.37 L207.10 97.72 L206.75 98.08 L206.40 98.44 L206.05 98.81 L205.70 99.17 L205.35 99.54 L205.01 99.90 L204.67 100.27 L204.34 100.64 L204.00 101.02 L203.67 101.39 L203.34 101.77 L203.02 102.15 L202.69 102.53 L202.37 102.91 L202.05 103.29 L202.02 103.33 M194.16 114.41 L194.03 114.61 L193.77 115.03 L193.52 115.46 L193.26 115.88 L193.01 116.31 L192.76 116.74 L192.51 117.16 L192.26 117.59 L192.01 118.03 L191.76 118.46 L191.52 118.89 L191.28 119.32 L191.04 119.76 L190.80 120.19 L190.56 120.63 L190.32 121.07 L190.08 121.51 L189.85 121.95 L189.61 122.39 L189.38 122.83 L189.15 123.27 L188.92 123.71 L188.69 124.15 L188.46 124.60 L188.24 125.04 L188.01 125.49 L187.79 125.94 L187.56 126.38 L187.34 126.83 L187.12 127.28 L186.90 127.73 L186.68 128.18 L186.46 128.63 L186.24 129.08 L186.02 129.53 L185.81 129.99 L185.59 130.44 L185.37 130.89 L185.16 131.35 L184.95 131.80 L184.73 132.26 L184.52 132.71 L184.31 133.17 L184.19 133.41 M178.51 146.04 L178.50 146.08 L178.29 146.54 L178.08 147.01 L177.87 147.47 L177.67 147.93 L177.46 148.40 L177.25 148.86 L177.04 149.32 L176.83 149.79 L176.63 150.25 L176.42 150.71 L176.21 151.18 L176.00 151.64 L175.79 152.10 L175.58 152.56 L175.37 153.03 L175.15 153.49 L174.94 153.95 L174.73 154.41 L174.52 154.87 L174.30 155.33 L174.09 155.80 L173.88 156.26 L173.66 156.72 L173.45 157.18 L173.23 157.64 L173.02 158.10 L172.80 158.56 L172.58 159.02 L172.37 159.47 L172.15 159.93 L171.93 160.39 L171.71 160.85 L171.49 161.30 L171.27 161.76 L171.05 162.22 L170.83 162.67 L170.60 163.13 L170.38 163.58 L170.16 164.04 L169.93 164.49 L169.71 164.94 L169.48 165.40 L169.45 165.46 M162.91 177.58 L162.78 177.80 L162.53 178.23 L162.27 178.67 L162.01 179.09 L161.76 179.52 L161.50 179.95 L161.24 180.38 L160.98 180.80 L160.71 181.23 L160.45 181.65 L160.18 182.07 L159.92 182.49 L159.65 182.92 L159.38 183.33 L159.11 183.75 L158.84 184.17 L158.56 184.59 L158.29 185.00 L158.01 185.41 L157.73 185.83 L157.45 186.24 L157.17 186.65 L156.89 187.06 L156.61 187.46 L156.32 187.87 L156.04 188.28 L155.75 188.68 L155.46 189.08 L155.17 189.48 L154.88 189.88 L154.58 190.28 L154.29 190.68 L153.99 191.08 L153.69 191.47 L153.39 191.86 L153.09 192.26 L152.78 192.65 L152.48 193.03 L152.17 193.42 L151.86 193.81 L151.55 194.19 L151.24 194.58 L150.92 194.96 L150.61 195.33 M141.36 205.13 L141.09 205.38 L140.73 205.71 L140.37 206.05 L140.00 206.38 L139.63 206.71 L139.27 207.04 L138.90 207.37 L138.52 207.70 L138.15 208.02 L137.78 208.34 L137.40 208.67 L137.03 208.99 L136.65 209.31 L136.27 209.62 L135.89 209.94 L135.50 210.25 L135.12 210.57 L134.73 210.88 L134.35 211.19 L133.96 211.49 L133.57 211.80 L133.18 212.10 L132.79 212.41 L132.39 212.71 L132.00 213.01 L131.60 213.30 L131.20 213.60 L130.81 213.90 L130.41 214.19 L130.00 214.48 L129.60 214.77 L129.20 215.06 L128.79 215.34 L128.39 215.63 L127.98 215.91 L127.57 216.19 L127.16 216.47 L126.75 216.75 L126.34 217.03 L125.92 217.30 L125.51 217.58 L125.09 217.85 L124.68 218.12 L124.26 218.39 L123.97 218.57 M112.53 225.00 L112.11 225.20 L111.66 225.42 L111.21 225.64 L110.76 225.85 L110.31 226.07 L109.85 226.28 L109.40 226.49 L108.95 226.69 L108.49 226.90 L108.03 227.10 L107.58 227.31 L107.12 227.51 L106.66 227.71 L106.20 227.90 L105.74 228.10 L105.28 228.29 L104.82 228.48 L104.36 228.67 L103.89 228.86 L103.43 229.05 L102.96 229.23 L102.50 229.42 L102.03 229.60 L101.56 229.78 L101.10 229.95 L100.63 230.13 L100.16 230.30 L99.69 230.47 L99.22 230.64 L98.75 230.81 L98.27 230.98 L97.80 231.14 L97.33 231.30 L96.85 231.46 L96.38 231.62 L95.90 231.78 L95.42 231.94 L94.95 232.09 L94.47 232.24 L93.99 232.39 L93.51 232.54 L93.03 232.68 L92.55 232.83 L92.07 232.97 L91.74 233.07 M79.20 236.12 L78.89 236.18 L78.40 236.28 L77.91 236.38 L77.41 236.48 L76.92 236.57 L76.42 236.67 L75.93 236.76 L75.43 236.86 L74.94 236.95 L74.44 237.04 L73.94 237.13 L73.45 237.22 L72.95 237.31 L72.46 237.39 L71.96 237.48 L71.46 237.57 L70.97 237.65 L70.47 237.74 L69.97 237.82 L69.47 237.90 L68.98 237.99 L68.48 238.07 L67.98 238.15 L67.48 238.23 L66.99 238.31 L66.49 238.39 L65.99 238.47 L65.49 238.55 L64.99 238.63 L64.50 238.71 L64.00 238.78 L63.50 238.86 L63.00 238.94 L62.51 239.01 L62.01 239.09 L61.51 239.17 L61.01 239.24 L60.52 239.32 L60.02 239.39 L59.52 239.47 L59.02 239.54 L58.53 239.62 L58.03 239.69 L57.53 239.77 L57.05 239.84 M44.37 241.86 L44.22 241.88 L43.73 241.97 L43.24 242.05 L42.75 242.14 L42.27 242.23 L41.78 242.32 L41.29 242.41 L40.81 242.50 L40.32 242.59 L39.84 242.68 L39.36 242.77 L38.87 242.86 L38.39 242.96 L37.91 243.06 L37.43 243.15 L36.95 243.25 L36.47 243.35 L35.99 243.45 L35.51 243.55 L35.03 243.65 L32.58 244.17" fill="none" stroke="#eb6235" stroke-width="5.1" stroke-linejoin="round" stroke-linecap="butt"/>
</g></svg>
<div class="t" style="left:176px;top:-3px;font-size:30px;transform-origin:50% 5px;transform:translateX(-50%) scaleY(1.04)">Born</div>
<div class="t tick" style="left:7.6px;top:27.7px">N<span class="sl" style="margin:0 -1.1px">/</span><i>N</i><sub><i>F</i></sub></div>
<div class="t tick r" style="left:30.5px;top:77.8px">1.5</div>
<div class="t tick r" style="left:30.5px;top:128.4px">1</div>
<div class="t tick r" style="left:30.5px;top:178.9px">0.5</div>
<div class="t tick c" style="left:34.45px;top:246.1px">0.0</div>
<div class="t tick c" style="left:81.52px;top:246.1px">0.5</div>
<div class="t tick c" style="left:128.60px;top:246.1px">1.0</div>
<div class="t tick c" style="left:175.68px;top:246.1px">1.5</div>
<div class="t tick c" style="left:222.75px;top:246.1px">2.0</div>
<div class="t tick c" style="left:269.82px;top:246.1px">2.5</div>
<div class="t tick c" style="left:316.90px;top:246.1px">3.0</div>
<div class="t tick" style="left:332.7px;top:230.5px"><span class="eps" style="margin-left:0.4px">&#x3F5;</span><span class="sl" style="margin:0 -0.8px 0 0.1px">/</span><i>T</i><sub><i>c</i></sub></div>
</body></html>
